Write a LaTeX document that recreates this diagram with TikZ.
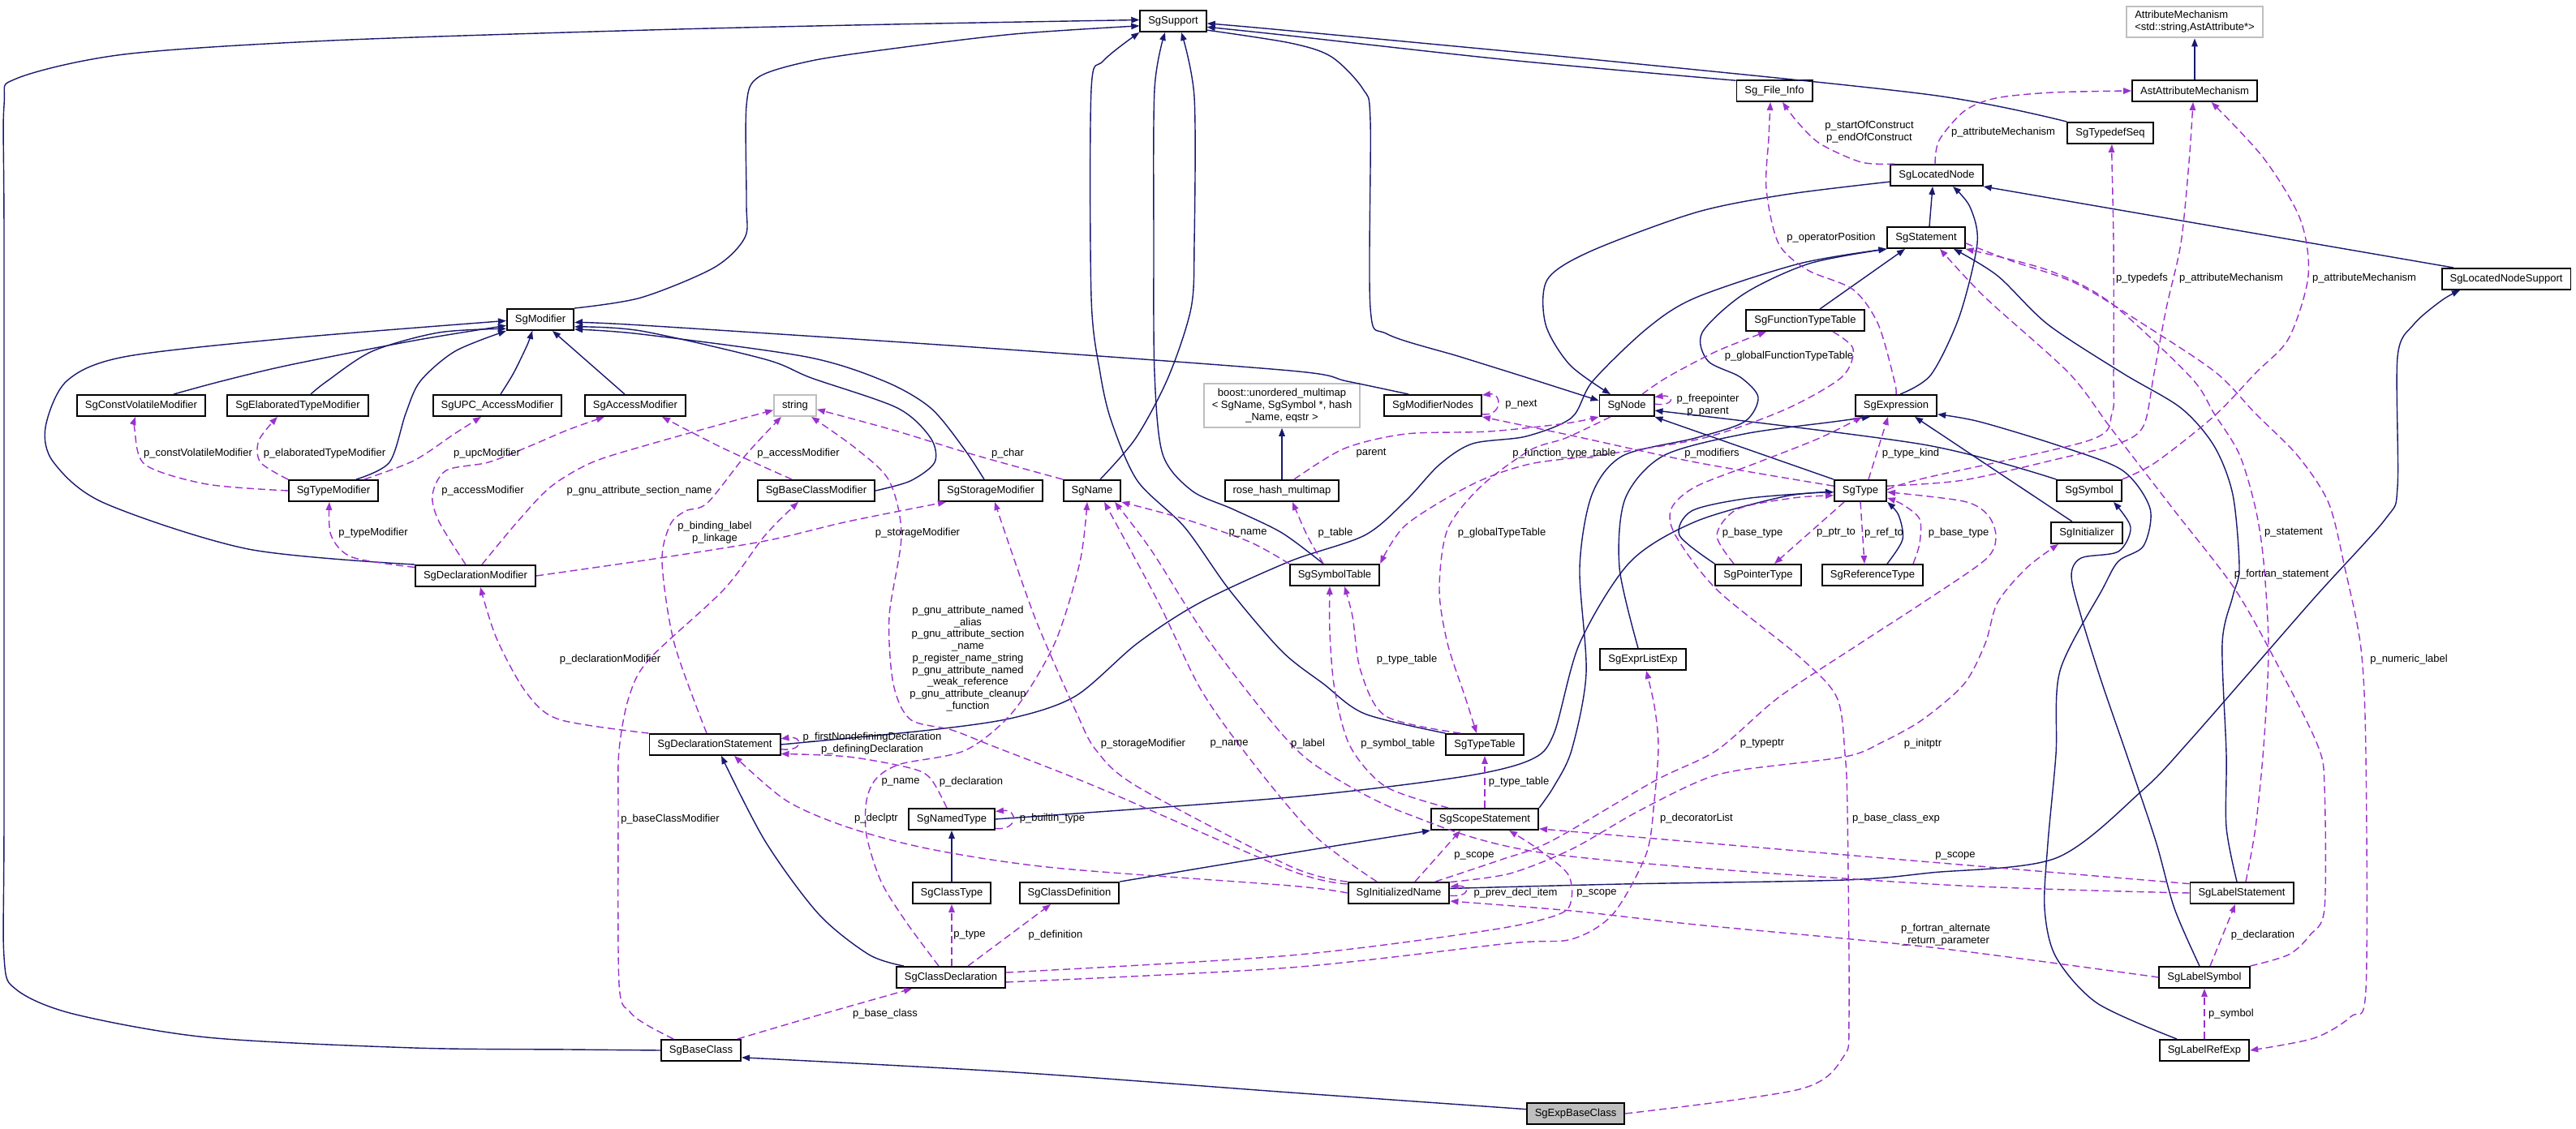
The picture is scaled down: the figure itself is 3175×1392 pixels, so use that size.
\documentclass[tikz,border=0pt]{standalone}
\usepackage{fontspec}
\newfontfamily\dxfont{Liberation Sans}
\usetikzlibrary{arrows.meta}
\definecolor{dxnavy}{HTML}{191970}
\definecolor{dxpurple}{HTML}{9A32CD}
\definecolor{dxgray}{HTML}{BFBFBF}
\tikzset{
  cls/.style={draw=black, line width=0.55pt, fill=white, font=\dxfont\fontsize{3.7}{4.2}\selectfont,
    minimum height=0.26cm, inner xsep=0.1cm, inner ysep=0.03cm},
  ext/.style={cls, draw=dxgray, inner ysep=0.06cm},
  lbl/.style={font=\dxfont\fontsize{3.7}{4.2}\selectfont, inner sep=0pt, align=center},
  inh/.style={draw=dxnavy, line width=0.4pt, -{Triangle[length=0.1cm,width=0.075cm]}},
  ptr/.style={draw=dxpurple, line width=0.4pt, dash pattern=on 0.09cm off 0.05cm,
    -{Triangle[length=0.1cm,width=0.075cm]}}
}
\begin{document}
\begin{tikzpicture}[x=0.01cm, y=-0.01cm]
\useasboundingbox (0,0) rectangle (3175,1392);

\node[cls] (sup)       at (1446,26)   {SgSupport};
\node[cls] (modif)     at (666,394)   {SgModifier};
\node[cls] (fileinfo)  at (2187,112)  {Sg\_File\_Info};
\node[cls] (locnode)   at (2387,216)  {SgLocatedNode};
\node[cls] (stmt)      at (2374,293)  {SgStatement};
\node[cls] (fntab)     at (2225,395)  {SgFunctionTypeTable};
\node[ext, align=left] (attrmech) at (2705,27) {AttributeMechanism\\<std::string,AstAttribute*>};
\node[cls] (astattr)   at (2705,112)  {AstAttributeMechanism};
\node[cls] (tdseq)     at (2601,164)  {SgTypedefSeq};
\node[cls] (lnsupp)    at (3089,344)  {SgLocatedNodeSupport};
\node[cls] (cvmod)     at (174,500)   {SgConstVolatileModifier};
\node[cls] (elabmod)   at (367,500)   {SgElaboratedTypeModifier};
\node[cls] (upcmod)    at (613,500)   {SgUPC\_AccessModifier};
\node[cls] (accmod)    at (783,500)   {SgAccessModifier};
\node[ext] (str)       at (980,500)   {string};
\node[cls] (bcmod)     at (1006,605)  {SgBaseClassModifier};
\node[cls] (stormod)   at (1221,605)  {SgStorageModifier};
\node[cls] (sgname)    at (1346,605)  {SgName};
\node[ext, align=center] (boostmm) at (1580,500) {boost::unordered\_multimap\\< SgName, SgSymbol *, hash\\\_Name, eqstr >};
\node[cls] (rosehash)  at (1580,605)  {rose\_hash\_multimap};
\node[cls] (tymod)     at (411,605)   {SgTypeModifier};
\node[cls] (declmod)   at (586,710)   {SgDeclarationModifier};
\node[cls] (modnodes)  at (1766,500)  {SgModifierNodes};
\node[cls] (sgnode)    at (2005,500)  {SgNode};
\node[cls] (expr)      at (2337,500)  {SgExpression};
\node[cls] (symtab)    at (1645,709)  {SgSymbolTable};
\node[cls] (sgtype)    at (2293,605)  {SgType};
\node[cls] (ptrtype)   at (2167,709)  {SgPointerType};
\node[cls] (reftype)   at (2308,709)  {SgReferenceType};
\node[cls] (symbol)    at (2575,605)  {SgSymbol};
\node[cls] (init)      at (2572,657)  {SgInitializer};
\node[cls] (exprlist)  at (2025,813)  {SgExprListExp};
\node[cls] (typetab)   at (1830,918)  {SgTypeTable};
\node[cls] (declstmt)  at (881,918)   {SgDeclarationStatement};
\node[cls] (namedtype) at (1173,1010) {SgNamedType};
\node[cls] (classtype) at (1173,1101) {SgClassType};
\node[cls] (classdef)  at (1318,1101) {SgClassDefinition};
\node[cls] (classdecl) at (1172,1205) {SgClassDeclaration};
\node[cls] (baseclass) at (864,1295)  {SgBaseClass};
\node[cls] (scope)     at (1830,1010) {SgScopeStatement};
\node[cls] (initname)  at (1724,1101) {SgInitializedName};
\node[cls, fill=dxgray] (expbase) at (1942,1373) {SgExpBaseClass};
\node[cls] (labelstmt) at (2763,1101) {SgLabelStatement};
\node[cls] (labelsym)  at (2717,1205) {SgLabelSymbol};
\node[cls] (labelref)  at (2717,1295) {SgLabelRefExp};

% inheritance
\draw[inh] plot[smooth] coordinates {(baseclass.west) (700,1294) (510,1292) (255,1279) (90,1250) (20,1220) (5,1180) (5,1000) (5,300) (5,130) (20,97) (153,67) (408,50) (800,37) (1100,30) (sup.178)};
\draw[inh] plot[smooth] coordinates {(modif.north east) (790,367) (880,330) (918,293) (920,250) (920,130) (935,95) (1000,75) (1100,60) (1250,42) (sup.188)};
\draw[inh] plot[smooth] coordinates {(modnodes.155) (1660,470) (1590,457) (1200,428) (790,401) (modif.-5)};
\draw[inh] plot[smooth] coordinates {(bcmod.east) (1122,593) (1152,570) (1147,540) (1106,503) (1000,466) (943,443) (790,408) (modif.-12)};
\draw[inh] plot[smooth] coordinates {([xshift=-0.08cm]stormod.north) (1188,553) (1147,503) (1090,470) (994,440) (790,412) (modif.-16)};
\draw[inh] plot[smooth] coordinates {(declmod.north west) (306,677) (128,620) (66,570) (56,527) (82,470) (153,440) (357,417) (modif.182)};
\draw[inh] plot[smooth] coordinates {([xshift=0.4cm]cvmod.north) (273,470) (357,450) (510,420) (modif.190)};
\draw[inh] plot[smooth] coordinates {([xshift=0.16cm]elabmod.north) (403,470) (459,433) (541,410) (modif.195)};
\draw[inh] plot[smooth] coordinates {([xshift=0.28cm]tymod.north) (480,570) (500,510) (518,470) (561,433) (modif.south west)};
\draw[inh] plot[smooth] coordinates {([xshift=0.04cm]upcmod.north) (633,460) (650,425) ([xshift=-0.1cm]modif.south)};
\draw[inh] ([xshift=-0.13cm]accmod.north) -- ([xshift=0.15cm]modif.south);
\draw[inh] plot[smooth] coordinates {([xshift=0.1cm]sgname.north) (1400,540) (1440,465) (1468,380) (1472,300) (1472,120) ([xshift=0.1cm]sup.south)};
\draw[inh] plot[smooth] coordinates {([xshift=-0.14cm]symtab.north) (1580,657) (1520,628) (1469,605) (1433,560) (1423,460) (1422,300) (1423,110) ([xshift=-0.1cm]sup.south)};
\draw[inh] plot[smooth] coordinates {(typetab.north west) (1682,880) (1631,843) (1580,803) (1515,727) (1460,650) (1402,593) (1370,520) (1356,460) (1345,367) (1345,110) (1360,75) (sup.south west)};
\draw[inh] plot[smooth] coordinates {(fileinfo.165) (1860,74) (1580,43) (sup.-10)};
\draw[inh] plot[smooth] coordinates {(tdseq.north west) (2380,117) (1980,75) (1580,37) (sup.-4)};
\draw[inh] plot[smooth] coordinates {(sup.-15) (1590,53) (1641,70) (1680,110) (1689,150) (1689,380) (1710,412) (1800,440) (1880,465) (sgnode.170)};
\draw[inh] plot[smooth] coordinates {(locnode.188) (2200,240) (2090,262) (1960,310) (1907,345) (1905,400) (1935,450) ([xshift=-0.2cm]sgnode.north)};
\draw[inh] ([xshift=0.04cm]stmt.north) -- ([xshift=-0.05cm]locnode.south);
\draw[inh] plot[smooth] coordinates {([xshift=0.05cm]expr.north) (2380,462) (2415,390) (2437,300) (2428,255) ([xshift=0.2cm]locnode.south)};
\draw[inh] ([xshift=-0.65cm]lnsupp.north) -- (locnode.south east);
\draw[inh] plot[smooth] coordinates {(initname.5) (2000,1090) (2274,1085) (2380,1076) (2534,1058) (2640,975) (2700,912) (2850,740) (2940,640) (2955,600) (2955,440) (2975,400) (3010,370) ([xshift=-0.57cm]lnsupp.south)};
\draw[inh] (sgtype.north west) -- (sgnode.south east);
\draw[inh] plot[smooth] coordinates {(symbol.north west) (2370,548) (sgnode.-10)};
\draw[inh] ([xshift=-0.18cm]init.north) -- ([xshift=0.23cm]expr.south);
\draw[inh] plot[smooth] coordinates {([xshift=-0.34cm]labelref.north) (2585,1237) (2534,1180) (2520,1120) (2524,1040) (2534,930) (2539,827) (2591,727) (2611,692) (2642,673) (2650,627) (2616,580) (2539,550) (2440,520) (expr.-12)};
\draw[inh] plot[smooth] coordinates {([xshift=-0.06cm]labelsym.north) (2680,1120) (2657,1037) (2621,930) (2590,840) (2565,760) (2553,710) (2565,688) (2611,680) (2626,650) (symbol.-25)};
\draw[inh] plot[smooth] coordinates {([xshift=-0.06cm]exprlist.north) (1996,700) (2003,615) (2050,562) (2150,535) (2260,520) ([xshift=-0.32cm]expr.south)};
\draw[inh] plot[smooth] coordinates {(ptrtype.north west) (2070,660) (2085,630) (2150,615) (2230,608) (sgtype.183)};
\draw[inh] plot[smooth] coordinates {([xshift=0.18cm]reftype.north) (2345,665) (2340,635) (sgtype.south east)};
\draw[inh] plot[smooth] coordinates {(namedtype.east) (1590,983) (1800,958) (1886,937) (1915,905) (1947,793) (2009,693) (2090,643) (2200,612) (sgtype.183)};
\draw[inh] (classtype) -- (namedtype);
\draw[inh] plot[smooth] coordinates {([xshift=-0.58cm]classdecl.north) (1071,1177) (1009,1127) (943,1037) ([xshift=0.08cm]declstmt.south)};
\draw[inh] plot[smooth] coordinates {(classdef.north east) (1590,1052) (scope.south west)};
\draw[inh] plot[smooth] coordinates {(declstmt.east) (1147,900) (1249,885) (1326,858) (1402,793) (1479,743) (1590,692) (1682,660) (1733,617) (1774,573) (1815,547) (1881,538) (1937,515) (1963,470) (2030,405) (2090,367) (2218,325) (stmt.south west)};
\draw[inh] plot[smooth] coordinates {(scope.north east) (1915,970) (1937,925) (1955,830) (1947,700) (1962,610) (2000,562) (2090,540) (2150,520) (2167,490) (2145,465) (2105,445) (2098,410) (2150,362) (2230,325) (stmt.south west)};
\draw[inh] ([xshift=0.18cm]fntab.north) -- ([xshift=-0.26cm]stmt.south);
\draw[inh] plot[smooth] coordinates {([xshift=-0.06cm]labelstmt.north) (2744,1020) (2744,930) (2739,793) (2752,735) (2760,700) (2752,610) (2729,550) (2688,503) (2616,460) (2524,400) (2462,340) ([xshift=0.34cm]stmt.south)};
\draw[inh] plot[smooth] coordinates {(expbase.175) (1590,1347) (1250,1322) (baseclass.-10)};
\draw[inh] (astattr) -- (attrmech);
\draw[inh] (rosehash) -- (boostmm);

% members
\draw[ptr] plot[smooth] coordinates {([xshift=-0.02cm]locnode.north) (2390,173) (2421,137) (2460,121) (2530,114) (astattr.west)};
\draw[ptr] plot[smooth] coordinates {(sgtype.10) (2420,592) (2540,565) (2611,547) (2642,525) (2655,460) (2670,380) (2688,300) (2698,200) ([xshift=-0.02cm]astattr.south)};
\draw[ptr] plot[smooth] coordinates {(symbol.north east) (2657,570) (2729,513) (2780,460) (2821,417) (2845,340) (2835,270) (2790,195) (astattr.-34)};
\draw[ptr] plot[smooth] coordinates {(sgtype.2) (2370,590) (2575,543) (2603,510) (2605,460) (2605,300) (2603,200) ([xshift=0.02cm]tdseq.south)};
\draw[ptr] plot[smooth] coordinates {(locnode.165) (2294,200) (2243,177) (2215,150) ([xshift=0.1cm]fileinfo.south)};
\draw[ptr] plot[smooth] coordinates {(expr.north) (2335,470) (2315,400) (2284,357) (2228,333) (2192,300) (2177,233) (2180,170) ([xshift=-0.05cm]fileinfo.south)};
\draw[ptr] plot[smooth] coordinates {([xshift=0.19cm]sgnode.north) (2055,465) (2116,433) ([xshift=-0.48cm]fntab.south)};
\draw[ptr] plot[smooth] coordinates {([xshift=-0.2cm]sgnode.south) (1930,540) (1886,555) (1825,600) (1784,653) (1774,727) (1784,793) (1806,860) ([xshift=-0.1cm]typetab.north)};
\draw[ptr] plot[smooth] coordinates {([xshift=0.15cm]rosehash.north) (1657,553) (1733,535) (1835,532) (1930,522) (sgnode.south west)};
\draw[ptr] plot[smooth] coordinates {([xshift=-0.14cm]symtab.north) (1611,660) ([xshift=0.13cm]rosehash.south)};
\draw[ptr] plot[smooth] coordinates {([xshift=0.34cm]fntab.south) (2284,430) (2270,465) (2200,505) (2100,540) (1980,560) (1886,572) (1815,597) (1733,647) (symtab.north east)};
\draw[ptr] plot[smooth] coordinates {([xshift=-0.3cm]typetab.north) (1708,883) (1677,827) (1667,760) ([xshift=0.12cm]symtab.south)};
\draw[ptr] plot[smooth] coordinates {([xshift=-0.45cm]scope.north) (1708,970) (1664,920) (1645,850) (1639,780) ([xshift=-0.06cm]symtab.south)};
\draw[ptr] (scope.north) -- (typetab.south);
\draw[ptr] plot[smooth] coordinates {(symtab.north west) (1540,668) (1460,640) (sgname.south east)};
\draw[ptr] plot[smooth] coordinates {(sgname.north west) (1198,560) (1100,530) (str.-10)};
\draw[ptr] plot[smooth] coordinates {([xshift=0.08cm]declmod.north) (638,643) (679,600) (730,570) (800,548) (900,520) (str.192)};
\draw[ptr] plot[smooth] coordinates {([xshift=-0.12cm]declmod.north) (541,643) (533,610) (550,580) (602,570) (653,550) (700,530) ([xshift=-0.38cm]accmod.south)};
\draw[ptr] plot[smooth] coordinates {(tymod.west) (255,597) (179,573) (166,530) ([xshift=-0.07cm]cvmod.south)};
\draw[ptr] plot[smooth] coordinates {(tymod.north west) (321,570) (319,543) ([xshift=-0.25cm]elabmod.south)};
\draw[ptr] plot[smooth] coordinates {([xshift=0.38cm]tymod.north) (510,568) (560,535) ([xshift=-0.2cm]upcmod.south)};
\draw[ptr] plot[smooth] coordinates {(declmod.172) (434,687) (408,660) ([xshift=-0.05cm]tymod.south)};
\draw[ptr] plot[smooth] coordinates {(declmod.east) (800,690) (943,667) (1045,643) ([xshift=-0.55cm]stormod.south)};
\draw[ptr] plot[smooth] coordinates {([xshift=-0.3cm]bcmod.north) (892,553) ([xshift=0.33cm]accmod.south)};
\draw[ptr] plot[smooth] coordinates {([xshift=-0.1cm]declstmt.north) (831,793) (816,693) (826,647) (845,630) (872,620) (920,560) ([xshift=-0.17cm]str.south)};
\draw[ptr] plot[smooth] coordinates {(initname.170) (1590,1073) (1351,970) (1224,920) (1173,900) (1122,887) (1101,843) (1096,760) (1111,660) (1096,593) (1055,553) ([xshift=0.2cm]str.south)};
\draw[ptr] plot[smooth] coordinates {(declstmt.north west) (689,887) (648,853) (612,787) ([xshift=0.06cm]declmod.south)};
\draw[ptr] plot[smooth] coordinates {([xshift=-0.34cm]baseclass.north) (796,1263) (776,1247) (763,1213) (762,1000) (763,925) (775,860) (800,813) (892,727) (943,660) ([xshift=-0.22cm]bcmod.south)};
\draw[ptr] plot[smooth] coordinates {([xshift=0.45cm]baseclass.north) (1004,1253) ([xshift=-0.48cm]classdecl.south)};
\draw[ptr] (declstmt.-4) .. controls +(28,4) and +(28,-4) .. (declstmt.5);
\draw[ptr] plot[smooth] coordinates {([xshift=-0.06cm]namedtype.north) (1147,960) (1122,947) (1045,933) (declstmt.-8)};
\draw[ptr] plot[smooth] coordinates {(initname.west) (1590,1092) (1300,1070) (1147,1047) (1045,1020) (969,987) ([xshift=0.24cm]declstmt.south)};
\draw[ptr] (namedtype.-12) .. controls +(28,3) and +(28,-3) .. (namedtype.10);
\draw[ptr] ([xshift=0.01cm]classdecl.north) -- (classtype.south);
\draw[ptr] ([xshift=0.21cm]classdecl.north) -- ([xshift=-0.23cm]classdef.south);
\draw[ptr] plot[smooth] coordinates {([xshift=-0.15cm]classdecl.north) (1117,1137) (1086,1087) (1068,1030) (1068,987) (1080,960) (1110,942) (1190,925) (1249,877) (1300,793) (1331,693) ([xshift=-0.06cm]sgname.south)};
\draw[ptr] plot[smooth] coordinates {(initname.north west) (1590,1068) (1402,970) (1351,925) (1326,877) (1275,760) ([xshift=0.05cm]stormod.south)};
\draw[ptr] plot[smooth] coordinates {([xshift=-0.27cm]initname.north) (1620,1030) (1540,935) (1480,850) (1428,743) ([xshift=0.15cm]sgname.south)};
\draw[ptr] plot[smooth] coordinates {(labelstmt.west) (2380,1090) (1912,1053) (1733,1003) (1631,950) (1580,905) (1490,790) (1420,680) ([xshift=0.28cm]sgname.south)};
\draw[ptr] ([xshift=0.2cm]initname.north) -- ([xshift=-0.3cm]scope.south);
\draw[ptr] plot[smooth] coordinates {(labelstmt.170) (2380,1063) (scope.-10)};
\draw[ptr] plot[smooth] coordinates {(classdecl.5) (1590,1178) (1835,1147) (1922,1127) (1937,1107) (1932,1077) (1896,1047) ([xshift=0.3cm]scope.south)};
\draw[ptr] plot[smooth] coordinates {(classdecl.-5) (1590,1193) (1861,1163) (1937,1158) (1988,1127) (2029,1053) (2039,987) (2044,920) (2039,870) ([xshift=0.04cm]exprlist.south)};
\draw[ptr] (initname.-3) .. controls +(25,2) and +(25,-2) .. (initname.7);
\draw[ptr] plot[smooth] coordinates {(labelsym.west) (2380,1168) (2090,1140) (1937,1123) (initname.-9)};
\draw[ptr] plot[smooth] coordinates {(initname.12) (1861,1077) (1937,1047) (2014,1003) (2090,965) (2141,950) (2274,933) (2320,915) (2370,887) (2421,843) (2447,793) (2462,743) (2498,700) ([xshift=-0.35cm]init.south)};
\draw[ptr] plot[smooth] coordinates {([xshift=0.45cm]initname.north) (1850,1060) (1912,1037) (2039,963) (2116,925) (2192,860) (2290,795) (2370,743) (2447,690) (2460,662) (2450,635) (2420,618) (sgtype.-3)};
\draw[ptr] plot[smooth] coordinates {([xshift=0.5cm]reftype.north) (2366,670) (2366,640) (2345,622) (sgtype.-15)};
\draw[ptr] plot[smooth] coordinates {([xshift=-0.3cm]ptrtype.north) (2116,660) (2141,628) (2210,614) (sgtype.190)};
\draw[ptr] ([xshift=-0.2cm]sgtype.south) -- ([xshift=0.2cm]ptrtype.north);
\draw[ptr] (sgtype.south) -- ([xshift=-0.1cm]reftype.north);
\draw[ptr] ([xshift=0.1cm]sgtype.north) -- ([xshift=-0.1cm]expr.south);
\draw[ptr] plot[smooth] coordinates {(sgtype.170) (2090,570) (1937,537) (modnodes.south east)};
\draw[ptr] (modnodes.-10) .. controls +(25,3) and +(25,-3) .. (modnodes.12);
\draw[ptr] (sgnode.3) .. controls +(25,3) and +(25,-3) .. (sgnode.17);
\draw[ptr] plot[smooth] coordinates {(expbase.east) (2218,1343) (2272,1303) (2279,1253) (2277,1000) (2274,930) (2264,860) (2218,810) (2116,727) (2065,660) (2060,627) (2090,600) (2167,570) (2243,540) ([xshift=-0.42cm]expr.south)};
\draw[ptr] plot[smooth] coordinates {(labelsym.north east) (2821,1177) (2847,1153) (2865,1120) (2865,970) (2857,920) (2811,827) (2755,727) (2678,627) (2601,527) (2550,460) (2447,367) ([xshift=0.17cm]stmt.south)};
\draw[ptr] plot[smooth] coordinates {([xshift=0.05cm]labelstmt.north) (2780,1020) (2790,920) (2796,800) (2790,693) (2780,627) (2760,560) (2729,510) (2700,465) (2601,373) (2524,333) (stmt.south east)};
\draw[ptr] plot[smooth] coordinates {(stmt.-8) (2480,322) (2560,350) (2650,405) (2732,460) (2780,510) (2832,562) (2870,620) (2890,700) (2910,800) (2916,930) (2916,1220) (2898,1253) (2852,1280) (labelref.east)};
\draw[ptr] ([xshift=0.07cm]labelsym.north) -- ([xshift=-0.08cm]labelstmt.south);
\draw[ptr] (labelref) -- (labelsym);

% labels
\node[lbl] (l-soc)     at (2304,163)  {p\_startOfConstruct\\p\_endOfConstruct};
\node[lbl] (l-oppos)   at (2257,293)  {p\_operatorPosition};
\node[lbl] (l-attr1)   at (2469,163)  {p\_attributeMechanism};
\node[lbl] (l-tdefs)   at (2640,343)  {p\_typedefs};
\node[lbl] (l-attr2)   at (2750,343)  {p\_attributeMechanism};
\node[lbl] (l-attr3)   at (2914,343)  {p\_attributeMechanism};
\node[lbl] (l-gfntab)  at (2205,439)  {p\_globalFunctionTypeTable};
\node[lbl] (l-cvmod)   at (244,559)   {p\_constVolatileModifier};
\node[lbl] (l-elab)    at (400,559)   {p\_elaboratedTypeModifier};
\node[lbl] (l-upc)     at (600,559)   {p\_upcModifier};
\node[lbl] (l-acc1)    at (595,605)   {p\_accessModifier};
\node[lbl] (l-sect)    at (788,605)   {p\_gnu\_attribute\_section\_name};
\node[lbl] (l-tymod)   at (460,657)   {p\_typeModifier};
\node[lbl] (l-acc2)    at (984,559)   {p\_accessModifier};
\node[lbl] (l-char)    at (1242,559)  {p\_char};
\node[lbl] (l-bind)    at (881,657)   {p\_binding\_label\\p\_linkage};
\node[lbl] (l-stor1)   at (1131,657)  {p\_storageModifier};
\node[lbl] (l-name1)   at (1538,657)  {p\_name};
\node[lbl] (l-declmod) at (752,813)   {p\_declarationModifier};
\node[lbl] (l-gnu)     at (1193,812)  {p\_gnu\_attribute\_named\\\_alias\\p\_gnu\_attribute\_section\\\_name\\p\_register\_name\_string\\p\_gnu\_attribute\_named\\\_weak\_reference\\p\_gnu\_attribute\_cleanup\\\_function};
\node[lbl] (l-defdecl) at (1075,917)  {p\_firstNondefiningDeclaration\\p\_definingDeclaration};
\node[lbl] (l-stor2)   at (1409,917)  {p\_storageModifier};
\node[lbl] (l-name2)   at (1515,917)  {p\_name};
\node[lbl] (l-label)   at (1612,917)  {p\_label};
\node[lbl] (l-symtab)  at (1723,917)  {p\_symbol\_table};
\node[lbl] (l-tytab1)  at (1734,813)  {p\_type\_table};
\node[lbl] (l-table)   at (1646,657)  {p\_table};
\node[lbl] (l-parent)  at (1690,559)  {parent};
\node[lbl] (l-fntt)    at (1928,559)  {p\_function\_type\_table};
\node[lbl] (l-gtt)     at (1851,657)  {p\_globalTypeTable};
\node[lbl] (l-mods)    at (2110,559)  {p\_modifiers};
\node[lbl] (l-next)    at (1875,499)  {p\_next};
\node[lbl] (l-free)    at (2105,500)  {p\_freepointer\\p\_parent};
\node[lbl] (l-kind)    at (2355,559)  {p\_type\_kind};
\node[lbl] (l-base1)   at (2160,657)  {p\_base\_type};
\node[lbl] (l-ptr)     at (2263,657)  {p\_ptr\_to};
\node[lbl] (l-ref)     at (2322,657)  {p\_ref\_to};
\node[lbl] (l-base2)   at (2414,657)  {p\_base\_type};
\node[lbl] (l-stmt)    at (2827,657)  {p\_statement};
\node[lbl] (l-fstmt)   at (2812,708)  {p\_fortran\_statement};
\node[lbl] (l-numl)    at (2969,813)  {p\_numeric\_label};
\node[lbl] (l-typeptr) at (2172,917)  {p\_typeptr};
\node[lbl] (l-initptr) at (2370,917)  {p\_initptr};
\node[lbl] (l-bcexp)   at (2337,1009) {p\_base\_class\_exp};
\node[lbl] (l-deco)    at (2091,1009) {p\_decoratorList};
\node[lbl] (l-tytab2)  at (1872,964)  {p\_type\_table};
\node[lbl] (l-scope1)  at (1817,1055) {p\_scope};
\node[lbl] (l-scope2)  at (2410,1055) {p\_scope};
\node[lbl] (l-prev)    at (1868,1101) {p\_prev\_decl\_item};
\node[lbl] (l-scope3)  at (1968,1101) {p\_scope};
\node[lbl] (l-falt)    at (2398,1153) {p\_fortran\_alternate\\\_return\_parameter};
\node[lbl] (l-decl2)   at (2789,1153) {p\_declaration};
\node[lbl] (l-sym)     at (2750,1250) {p\_symbol};
\node[lbl] (l-name3)   at (1110,964)  {p\_name};
\node[lbl] (l-decl1)   at (1197,964)  {p\_declaration};
\node[lbl] (l-declptr) at (1080,1009) {p\_declptr};
\node[lbl] (l-builtin) at (1297,1009) {p\_builtin\_type};
\node[lbl] (l-type)    at (1195,1153) {p\_type};
\node[lbl] (l-def)     at (1301,1153) {p\_definition};
\node[lbl] (l-bclass)  at (1091,1250) {p\_base\_class};
\node[lbl] (l-bcmod)   at (826,1010)  {p\_baseClassModifier};
\end{tikzpicture}
\end{document}
